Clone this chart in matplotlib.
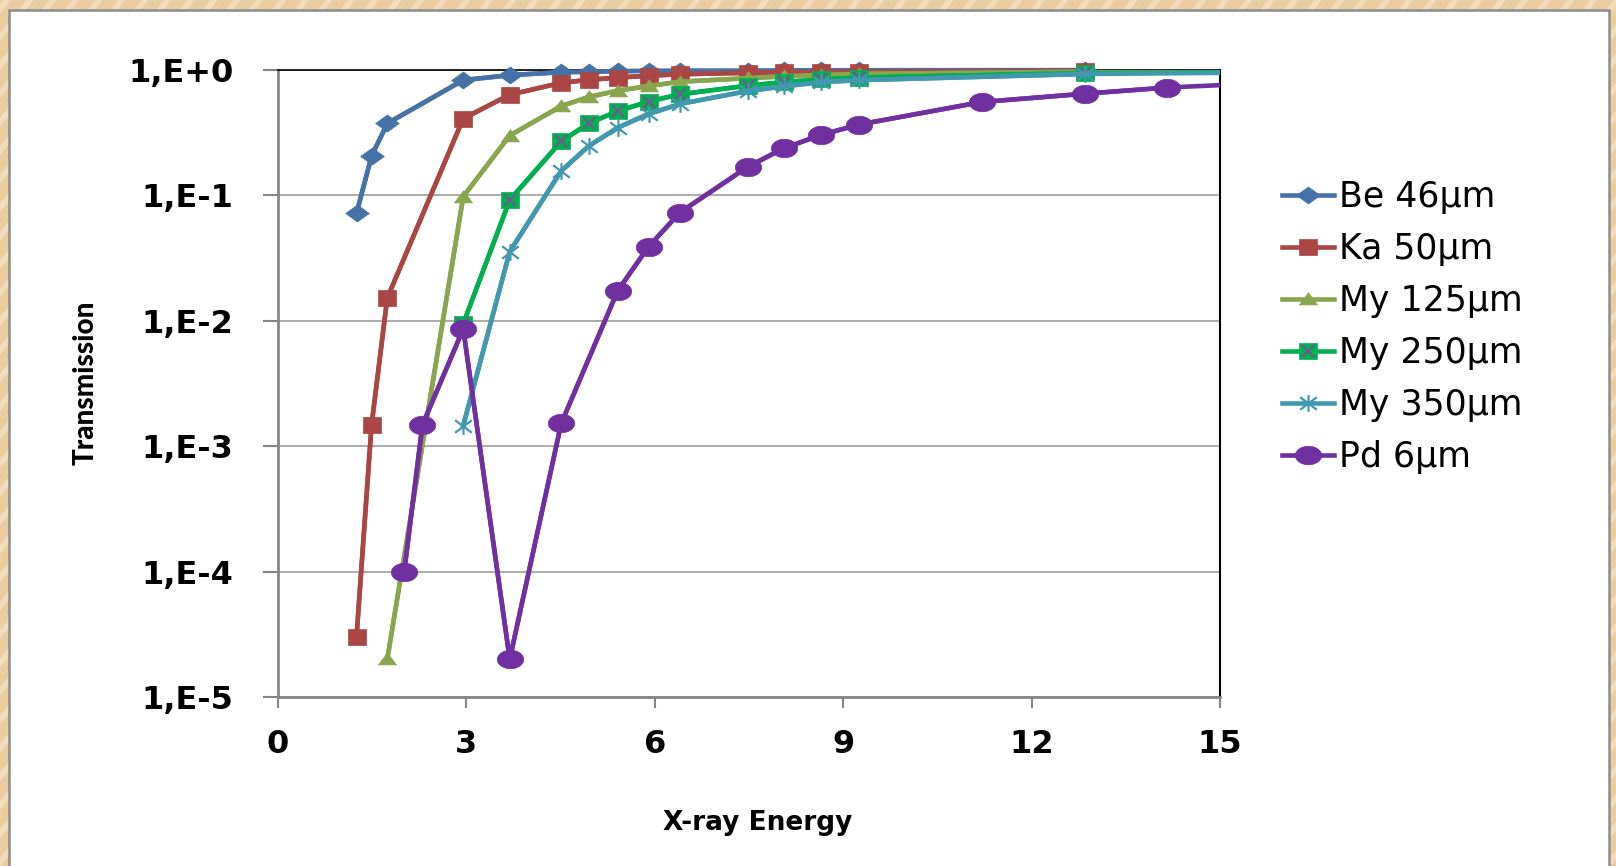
import numpy as np
import matplotlib
matplotlib.use('Agg')
import matplotlib.pyplot as plt
from matplotlib.patches import Rectangle
from matplotlib.lines import Line2D
from matplotlib.path import Path

# transmission of window materials vs X-ray energy (keV)

be_e = [1.25, 1.49, 1.74, 2.95, 3.69, 4.51, 4.95, 5.41, 5.90, 6.40, 7.48, 8.05, 8.64, 9.25, 12.85, 17.48]
be_t = [0.072, 0.206, 0.375, 0.83, 0.91, 0.96, 0.97, 0.98, 0.985, 0.99, 0.99, 0.993, 0.995, 0.996, 0.998, 0.999]

ka_e = [1.25, 1.49, 1.74, 2.95, 3.69, 4.51, 4.95, 5.41, 5.90, 6.40, 7.48, 8.05, 8.64, 9.25, 12.85, 17.48]
ka_t = [3.0e-5, 1.48e-3, 0.0152, 0.41, 0.635, 0.79, 0.835, 0.87, 0.90, 0.925, 0.95, 0.96, 0.965, 0.97, 0.985, 0.995]

my125_e = [1.74, 2.95, 3.69, 4.51, 4.95, 5.41, 5.90, 6.40, 7.48, 8.05, 8.64, 9.25, 12.85, 17.48]
my125_t = [2.0e-5, 0.098, 0.30, 0.516, 0.61, 0.684, 0.745, 0.807, 0.86, 0.89, 0.91, 0.93, 0.97, 0.985]

my250_e = [2.95, 3.69, 4.51, 4.95, 5.41, 5.90, 6.40, 7.48, 8.05, 8.64, 9.25, 12.85, 17.48]
my250_t = [0.0095, 0.092, 0.27, 0.376, 0.47, 0.56, 0.64, 0.75, 0.80, 0.84, 0.87, 0.945, 0.975]

my350_e = [2.95, 3.69, 4.51, 4.95, 5.41, 5.90, 6.40, 7.48, 8.05, 8.64, 9.25, 12.85, 17.48]
my350_t = [1.46e-3, 0.0356, 0.157, 0.248, 0.347, 0.446, 0.536, 0.68, 0.74, 0.80, 0.83, 0.93, 0.97]

pd_e = [2.01, 2.30, 2.95, 3.69, 4.51, 5.41, 5.90, 6.40, 7.48, 8.05, 8.64, 9.25, 11.21, 12.85, 14.16, 17.48]
pd_t = [1.0e-4, 1.48e-3, 0.0086, 2.0e-5, 1.52e-3, 0.0174, 0.039, 0.073, 0.169, 0.237, 0.303, 0.367, 0.556, 0.647, 0.725, 0.86]

labels = ['Be 46µm', 'Ka 50µm', 'My 125µm', 'My 250µm', 'My 350µm', 'Pd 6µm']
colors = ['#4572A7', '#AA4643', '#89A54E', '#00B050', '#4198AF', '#7030A0']

xticks = [0, 3, 6, 9, 12, 15]
yticks = [1e-5, 1e-4, 1e-3, 1e-2, 1e-1, 1e0]
ytick_labels = ['1,E-5', '1,E-4', '1,E-3', '1,E-2', '1,E-1', '1,E+0']

# stretched marker shapes (the original chart was widened)
t = np.linspace(0, 2 * np.pi, 60)
m_circle = list(zip(np.cos(t), 0.7 * np.sin(t)))
m_diamond = [(1, 0), (0, 0.72), (-1, 0), (0, -0.72), (1, 0)]
m_square = [(-1, -0.85), (1, -0.85), (1, 0.85), (-1, 0.85), (-1, -0.85)]
m_tri = [(-1, -0.6), (1, -0.6), (0, 0.75), (-1, -0.6)]
m_star = Path([(-1, -0.75), (1, 0.75), (-1, 0.75), (1, -0.75), (0, -1), (0, 1)],
              [Path.MOVETO, Path.LINETO, Path.MOVETO, Path.LINETO, Path.MOVETO, Path.LINETO])

W, H = 1616, 866
fig = plt.figure(figsize=(W / 100, H / 100), dpi=100)
fig.patch.set_facecolor('#E9CDA0')
# wood-ish streaks on the slide background
for x0 in range(-900, 1700, 23):
    fig.add_artist(Line2D([x0 / W, (x0 + 700) / W], [0, 1], transform=fig.transFigure,
                          color='#F5E6CE', lw=4, alpha=0.6, zorder=-5))
fig.add_artist(Rectangle((9 / W, -0.02), 1600 / W, (856 / H) + 0.02, transform=fig.transFigure,
                         facecolor='white', edgecolor='#8C8C8C', lw=1.8, zorder=-1))

ax = fig.add_axes([278 / W, 1 - 697 / H, (1220 - 278) / W, (697 - 70) / H])
ax.set_facecolor('none')

series = [
    (be_e, be_t, m_diamond, 17),
    (ka_e, ka_t, m_square, 13),
    (my125_e, my125_t, m_tri, 13),
    (my250_e, my250_t, m_square, 13),
    (my350_e, my350_t, m_star, 12),
    (pd_e, pd_t, m_circle, 19),
]

handles = []
for i, (e, tr, mk, ms) in enumerate(series):
    e = np.array(e)
    tr = np.array(tr)
    c = colors[i]
    z = 3 + i
    ax.plot(e, tr, color=c, lw=3.3, zorder=z)
    inside = e <= 15
    if mk is m_star:
        h, = ax.plot(e[inside], tr[inside], color=c, lw=3.3, marker=mk, ms=ms,
                     mfc='none', mec=c, mew=1.6, clip_on=False, zorder=z)
    else:
        h, = ax.plot(e[inside], tr[inside], color=c, lw=3.3, marker=mk, ms=ms,
                     mfc=c, mec=c, mew=0.5, clip_on=False, zorder=z)
    if i == 3:
        hx, = ax.plot(e[inside], tr[inside], ls='none', marker='x', ms=9,
                      mec='#71588F', mew=1.5, clip_on=False, zorder=z)
        handles.append((h, hx))
    else:
        handles.append(h)

ax.set_yscale('log')
ax.set_ylim(1e-5, 1)
ax.set_xlim(0, 15)
ax.set_xticks(xticks)
ax.set_xticklabels([str(v) for v in xticks])
ax.set_yticks(yticks)
ax.set_yticklabels(ytick_labels)
ax.minorticks_off()
ax.yaxis.grid(True, color='#A6A6A6', lw=1.3)
ax.set_axisbelow(True)

for lab in ax.get_xticklabels() + ax.get_yticklabels():
    lab.set_fontsize(23)
    lab.set_fontweight('bold')
ax.tick_params(axis='y', length=11, width=1.5, color='#868686', pad=21)
ax.tick_params(axis='x', length=8, width=1.5, color='#868686', pad=15)

ax.spines['left'].set_color('#868686')
ax.spines['left'].set_linewidth(2)
ax.spines['bottom'].set_color('#868686')
ax.spines['bottom'].set_linewidth(2)
ax.spines['top'].set_color('black')
ax.spines['top'].set_linewidth(1.2)
ax.spines['right'].set_color('black')
ax.spines['right'].set_linewidth(1.5)

fig.text(86 / W, 1 - 383 / H, 'Transmission', rotation=90, ha='center', va='center',
         fontsize=20, fontweight='black', family=['Lato', 'DejaVu Sans'])
fig.text(758 / W, 1 - 823 / H, 'X-ray Energy', ha='center', va='center',
         fontsize=19, fontweight='bold')

fig.legend(handles, labels, loc='upper left', bbox_to_anchor=(1282 / W, 1 - 180 / H),
           frameon=False, fontsize=25, handlelength=1.5, handletextpad=0.15,
           labelspacing=0.52, borderpad=0, borderaxespad=0)

fig.savefig('out.png', dpi=100, facecolor=fig.get_facecolor())
